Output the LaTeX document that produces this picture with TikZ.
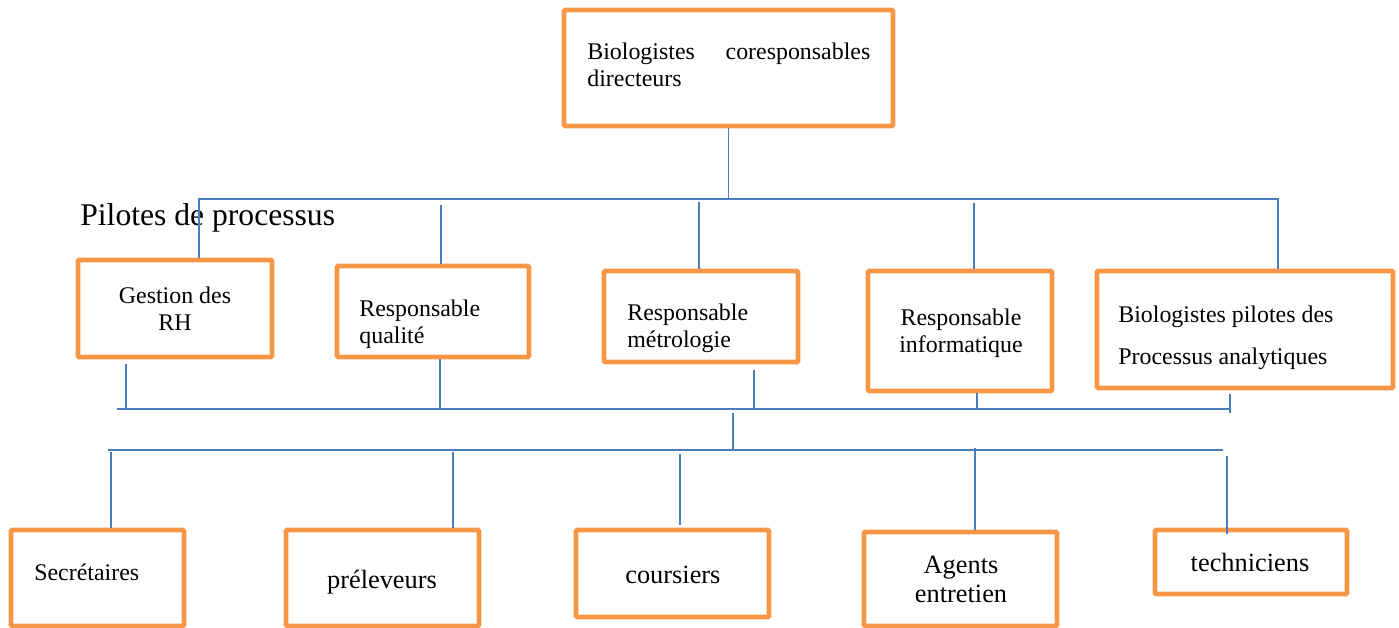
\documentclass[tikz,border=0pt]{standalone}
\usepackage{fontspec}
\setmainfont{Liberation Serif}
\usetikzlibrary{calc}
\definecolor{boxorange}{HTML}{F79646}
\definecolor{linkblue}{HTML}{4A7EBB}
\tikzset{
  obox/.style={draw=boxorange, line width=2.8pt, rounded corners=0.8pt, inner sep=0pt},
  link/.style={draw=linkblue, line width=1pt},
  txt/.style={inner sep=0pt, align=left, font=\fontsize{13.6}{15.3}\selectfont},
  txtb/.style={inner sep=0pt, align=center, font=\fontsize{15}{16.4}\selectfont},
  title/.style={inner sep=0pt, font=\fontsize{18}{20}\selectfont}
}
\def\orgbox(#1)(#2,#3)(#4,#5){\node[obox, minimum width=#4*0.02cm, minimum height=#5*0.02cm] (#1) at (#2,#3) {};}

\begin{document}
\begin{tikzpicture}[x=0.02cm, y=-0.02cm]
			%%%%% START %%%%%
			\useasboundingbox (0,0) rectangle (1399,628);
			
			\orgbox(top)(728.5,68)(329,116)
			
			\orgbox(rh)(175,308.5)(194,97)
			\orgbox(qual)(433,311.5)(192,91)
			\orgbox(metro)(701,316.5)(194,91)
			\orgbox(info)(960,331)(184,120)
			\orgbox(bio)(1245,329.5)(296,117)
			
			\orgbox(sec)(97.5,578)(173,96)
			\orgbox(prel)(382.5,578)(193,96)
			\orgbox(cour)(672.5,573.5)(193,87)
			\orgbox(agent)(960.5,579)(193,94)
			\orgbox(tech)(1251,562)(192,64)
			
			\node[txt, text width=5.66cm, anchor=base west] (ttop) at (587,60) {Biologistes\hfill coresponsables\\directeurs};
			\node[title, anchor=base west] (pil) at (80,226) {Pilotes de processus};
			
			% multi-line labels: y is the baseline of the last line
			\node[txt, align=center, anchor=base] (trh) at (175,330) {Gestion des\\RH};
			\node[txt, anchor=base west] (tqual) at (359,343) {Responsable\\qualité};
			\node[txt, anchor=base west] (tmetro) at (627,347) {Responsable\\métrologie};
			\node[txt, align=center, anchor=base] (tinfo) at (961,352) {Responsable\\informatique};
			\node[txt, anchor=base west, font=\fontsize{13.6}{23.8}\selectfont] (tbio) at (1118,364) {Biologistes pilotes des\\Processus analytiques};
			
			\node[txt, anchor=base west] (tsec) at (34,580) {Secrétaires};
			\node[txtb, anchor=base] (tprel) at (382,588) {préleveurs};
			\node[txtb, anchor=base west] (tcour) at (625,583) {coursiers};
			\node[txtb, anchor=base] (tagent) at (961,602) {Agents\\entretien};
			\node[txtb, anchor=base] (ttech) at (1250,571) {techniciens};
			
			% pilotes
			\coordinate (h1w) at (199,199);
			\coordinate (h1e) at (1278,199);
			\draw[link] (top.south) -- (top.south |- h1w);
			\draw[link] (rh.north -| h1w) -- (h1w) -- (h1e) -- (bio.north -| h1e);
			\coordinate (qd) at (441,205);
			\draw[link] (qd) -- (qual.north -| qd);
			\coordinate (md) at (699,202);
			\draw[link] (md) -- (metro.north -| md);
			\coordinate (id) at (974,203);
			\draw[link] (id) -- (info.north -| id);
			
			% regroupement
			\coordinate (h2w) at (117,409);
			\coordinate (h2e) at (1230,409);
			\draw[link] (h2w) -- (h2e);
			\coordinate (rhu) at (126,364);
			\draw[link] (rhu) -- (rhu |- h2w);
			\coordinate (qu) at (440,409);
			\draw[link] (qual.south -| qu) -- (qu);
			\coordinate (mu) at (754,370);
			\draw[link] (mu) -- (mu |- h2w);
			\coordinate (iu) at (977,409);
			\draw[link] (info.south -| iu) -- (iu);
			\draw[link] ($(h2e)+(0,-15)$) -- ($(h2e)+(0,4)$);
			
			% personnel
			\coordinate (h3w) at (108,450);
			\coordinate (h3e) at (1223,450);
			\coordinate (mid) at (733,413);
			\draw[link] (mid) -- (mid |- h3w);
			\draw[link] (h3w) -- (h3e);
			\coordinate (sd) at (111,452);
			\draw[link] (sd) -- (sec.north -| sd);
			\coordinate (pd) at (453,452);
			\draw[link] (pd) -- (prel.north -| pd);
			\coordinate (cd) at (680,454);
			\draw[link] (cd) -- ($(cour.north -| cd)+(0,-3)$);
			\coordinate (ad) at (975,448);
			\draw[link] (ad) -- (agent.north -| ad);
			\coordinate (td) at (1227,456);
			\draw[link] (td) -- ($(tech.north -| td)+(0,6)$);
			
			%%%%% END %%%%%
		\end{tikzpicture}
\end{document}
